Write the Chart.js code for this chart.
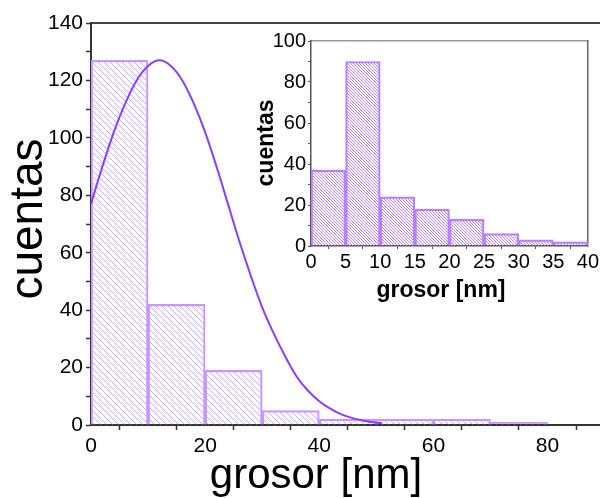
<!DOCTYPE html>
<html>
<head>
<meta charset="utf-8">
<script src="https://cdn.jsdelivr.net/npm/chart.js@4"></script>
<style>
  html, body { margin: 0; padding: 0; background: #fff; }
  #wrap { position: relative; width: 600px; height: 498px; overflow: hidden; }
  #main { position: absolute; left: 0; top: 0; }
  #inset { position: absolute; left: 240px; top: 25px; }
</style>
</head>
<body>
<div id="wrap">
  <canvas id="main" width="600" height="498"></canvas>
  <canvas id="inset" width="360" height="285"></canvas>
</div>
<script>
// ---- data ----
const mainBinCenters = [5, 15, 25, 35, 45, 55, 65, 75];
const mainCounts     = [127, 42, 19, 5, 2, 2, 2, 1];
const fitX = [0, 2, 4, 6, 8, 10, 12, 14, 16, 18, 20, 22, 24, 26, 28, 30, 32, 34, 36, 38, 40, 42, 44, 46, 48, 50, 51];
const fitY = [77, 90, 102, 112, 120, 125, 127, 125, 120, 112, 102, 90, 77, 64, 52, 41, 32, 24, 17, 12, 8.3, 5.6, 3.6, 2.3, 1.4, 0.8, 0.6];
const insetBinCenters = [2.5, 7.5, 12.5, 17.5, 22.5, 27.5, 32.5, 37.5];
const insetCounts     = [37, 90, 24, 18, 13, 6, 3, 2];
const mainXTitle = 'grosor [nm]';
const mainYTitle = 'cuentas';
const insetXTitle = 'grosor [nm]';
const insetYTitle = 'cuentas';

function hatch(size, color, lw) {
  const c = document.createElement('canvas');
  c.width = size; c.height = size;
  const g = c.getContext('2d');
  g.strokeStyle = color; g.lineWidth = lw;
  g.beginPath();
  g.moveTo(-1, -1); g.lineTo(size + 1, size + 1);
  g.moveTo(-1, size - 1); g.lineTo(1, size + 1);
  g.moveTo(size - 1, -1); g.lineTo(size + 1, 1);
  g.stroke();
  return g.createPattern(c, 'repeat');
}

const titlePlugin = {
  id: 'axisTitles',
  afterDraw(chart, args, opts) {
    const ctx = chart.ctx;
    (opts.items || []).forEach(it => {
      ctx.save();
      ctx.font = it.font;
      ctx.fillStyle = '#000';
      ctx.textAlign = 'center';
      ctx.textBaseline = 'alphabetic';
      ctx.translate(it.x, it.y);
      if (it.rotate) ctx.rotate(-Math.PI / 2);
      ctx.fillText(it.text, 0, 0);
      ctx.restore();
    });
  }
};

const FAM = "'Liberation Sans', Arial, sans-serif";
Chart.defaults.font.family = FAM;
Chart.defaults.color = '#000';

// ---- main chart ----
new Chart(document.getElementById('main'), {
  type: 'bar',
  plugins: [titlePlugin],
  data: {
    datasets: [
      {
        type: 'line',
        data: fitX.map((x, i) => ({ x: x, y: fitY[i] })),
        borderColor: '#8b3cff',
        borderWidth: 2,
        pointRadius: 0,
        tension: 0.35,
        fill: false,
        order: 1
      },
      {
        type: 'bar',
        data: mainBinCenters.map((x, i) => ({ x: x, y: mainCounts[i] })),
        backgroundColor: hatch(6, '#d0aaff', 1),
        borderColor: '#c895ff',
        borderWidth: 1.5,
        barPercentage: 1,
        categoryPercentage: 1,
        order: 2
      }
    ]
  },
  options: {
    responsive: false,
    animation: false,
    devicePixelRatio: 1,
    layout: { padding: 0 },
    plugins: {
      legend: { display: false },
      tooltip: { enabled: false },
      axisTitles: {
        items: [
          { text: mainXTitle, x: 316, y: 488, font: "42px " + FAM },
          { text: mainYTitle, x: 42, y: 219, font: "46px " + FAM, rotate: true }
        ]
      }
    },
    scales: {
      x: {
        type: 'linear', position: 'bottom', min: 0, max: 89.2, offset: false,
        ticks: { stepSize: 10, includeBounds: false, autoSkip: false, maxRotation: 0, padding: 4,
                 font: { size: 21 }, color: '#000',
                 callback: v => (v % 20 === 0 ? v : '') },
        grid: { drawOnChartArea: false, tickLength: 5, tickColor: '#333', tickWidth: 1.5 },
        border: { color: '#333', width: 2 },
        afterFit: s => { s.height = 73; }
      },
      x2: {
        type: 'linear', position: 'top', min: 0, max: 89.2,
        ticks: { display: false },
        grid: { display: false, drawTicks: false },
        border: { color: '#444', width: 2 },
        afterFit: s => { s.height = 23; }
      },
      y: {
        min: 0, max: 140,
        ticks: { stepSize: 10, includeBounds: false, autoSkip: false, padding: 3,
                 font: { size: 21 }, color: '#000',
                 callback: v => (v % 20 === 0 ? v : '') },
        grid: { drawOnChartArea: false, tickLength: 5, tickColor: '#333', tickWidth: 1.5 },
        border: { color: '#333', width: 2 },
        afterFit: s => { s.width = 91; }
      }
    }
  }
});

// ---- inset chart ----
new Chart(document.getElementById('inset'), {
  type: 'bar',
  plugins: [titlePlugin],
  data: {
    datasets: [
      {
        type: 'bar',
        data: insetBinCenters.map((x, i) => ({ x: x, y: insetCounts[i] })),
        backgroundColor: hatch(3, '#b97fff', 1),
        borderColor: '#b87eff',
        borderWidth: 1.5,
        barPercentage: 1,
        categoryPercentage: 1
      }
    ]
  },
  options: {
    responsive: false,
    animation: false,
    devicePixelRatio: 1,
    layout: { padding: 0 },
    plugins: {
      legend: { display: false },
      tooltip: { enabled: false },
      axisTitles: {
        items: [
          { text: insetXTitle, x: 201, y: 272, font: "bold 23px " + FAM },
          { text: insetYTitle, x: 33, y: 118, font: "bold 23px " + FAM, rotate: true }
        ]
      }
    },
    scales: {
      x: {
        type: 'linear', position: 'bottom', min: 0, max: 40, offset: false,
        ticks: { stepSize: 5, autoSkip: false, maxRotation: 0, padding: 1,
                 font: { size: 20 }, color: '#000' },
        grid: { drawOnChartArea: false, tickLength: 3, tickColor: '#555', tickWidth: 1 },
        border: { color: '#555', width: 1.5 },
        afterFit: s => { s.height = 64; }
      },
      x2: {
        type: 'linear', position: 'top', min: 0, max: 40,
        ticks: { display: false },
        grid: { display: false, drawTicks: false },
        border: { color: '#999', width: 1.5 },
        afterFit: s => { s.height = 16; }
      },
      y: {
        min: 0, max: 100,
        ticks: { stepSize: 10, autoSkip: false, padding: 2,
                 font: { size: 20 }, color: '#000',
                 callback: v => (v % 20 === 0 ? v : '') },
        grid: { drawOnChartArea: false, tickLength: 3, tickColor: '#555', tickWidth: 1 },
        border: { color: '#555', width: 1.5 },
        afterFit: s => { s.width = 71; }
      },
      y2: {
        position: 'right', min: 0, max: 100,
        ticks: { display: false },
        grid: { display: false, drawTicks: false },
        border: { color: '#666', width: 1.5 },
        afterFit: s => { s.width = 11; }
      }
    }
  }
});
</script>
</body>
</html>
